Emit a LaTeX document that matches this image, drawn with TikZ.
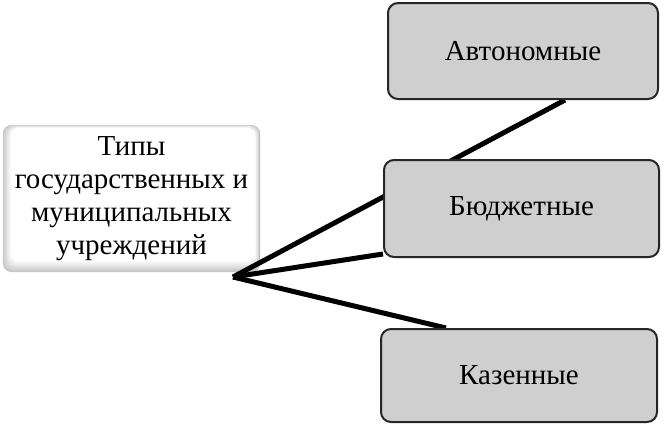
\documentclass[tikz,border=0pt]{standalone}
\usepackage{fontspec}
\setmainfont{Liberation Serif}
\usetikzlibrary{backgrounds,calc}
\begin{document}
\begin{tikzpicture}[x=1pt,y=-1pt,
  graybox/.style={draw=black!85, line width=2pt, fill=black!19, rounded corners=10pt,
    minimum width=#1, minimum height=96pt, font=\fontsize{29}{33}\selectfont, inner sep=0pt},
  mainbox/.style={minimum width=257pt, minimum height=147pt, inner sep=0pt, align=center,
    font=\fontsize{29}{33}\selectfont},
  bevel/.style={rounded corners=9pt},
  link/.style={line width=5pt, black}]
\useasboundingbox (0,0) rectangle (671,429);
\node[mainbox] (t) at (131.5,198.5) {Типы\\государственных и\\муниципальных\\учреждений};
\node[graybox=270pt, minimum height=96pt] (a) at (523,51) {Автономные};
\node[graybox=275pt, minimum height=97pt] (b) at (521.5,208.5) {Бюджетные};
\node[graybox=276pt, minimum height=93pt] (k) at (519,375.5) {Казенные};
\coordinate (hub) at (233,277);
\begin{scope}[on background layer]
  \fill[black!22, bevel] (t.north west) rectangle (t.south east);
  \foreach \i in {1,...,10} {
    \pgfmathsetmacro{\c}{22-2.2*\i}
    \fill[black!\c, bevel] ($(t.north west)+(0.8*\i,0.3*\i)$) rectangle ($(t.south east)+(-0.5*\i,-1.1*\i)$);
  }
  \fill[white, bevel] ($(t.north west)+(9,3)$) rectangle ($(t.south east)+(-5,-12)$);
  \draw[black!25, line width=0.6pt] ($(t.north east)+(-1,6)$) -- ($(t.south east)+(-1,-6)$);
  \draw[link] (hub) -- ($(a.south)+(42,0)$);
  \draw[link] (hub) -- ($(b.south west)+(0,-4)$);
  \draw[link] (hub) -- ($(k.north west)+(66,0)$);
\end{scope}
\end{tikzpicture}
\end{document}
